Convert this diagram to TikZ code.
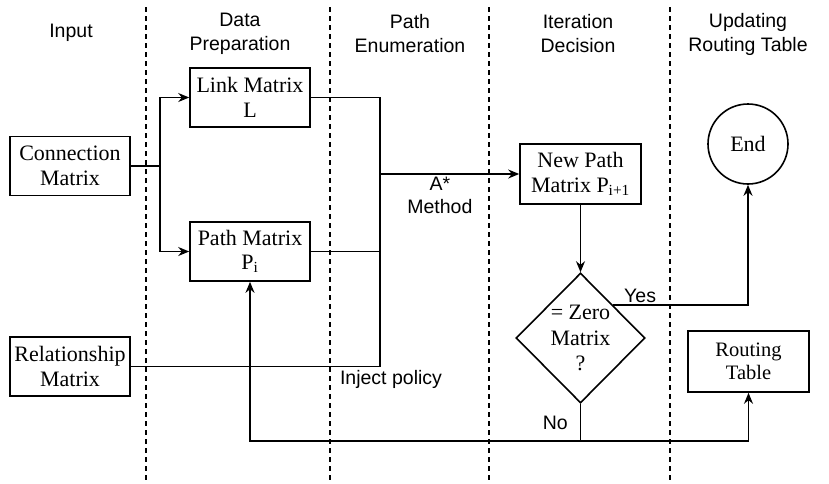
\documentclass[tikz,border=0pt]{standalone}
\usepackage{fontspec}
\setmainfont{Liberation Serif}
\setsansfont{Liberation Sans}
\usetikzlibrary{shapes.geometric, arrows.meta}

\tikzset{
  box/.style = {draw, line width = 1.6pt, align = center, inner sep = 0pt,
    minimum width = 120pt, minimum height = 59pt,
    font = \fontsize{22}{24.5}\selectfont},
  lane/.style = {line width = 1.5pt, dash pattern = on 5pt off 4pt},
  head/.style = {align = center, font = \sffamily\fontsize{19.5}{24}\selectfont},
  tag/.style = {align = center, inner sep = 2pt, font = \sffamily\fontsize{19.5}{23}\selectfont},
  line/.style = {line width = 1.6pt},
  >={Stealth[length = 11pt, width = 9pt]}
}

\begin{document}
\begin{tikzpicture}[x = 1pt, y = -1pt]
  \useasboundingbox (0, 0) rectangle (829, 483);

  % Lanes
  \foreach \x in {146, 330, 489, 670}
    \draw[lane] (\x, 7) -- (\x, 480);
  \node[head] (hinput) at (71, 33) {Input};
  \node[head] (hprep) at (240, 34) {Data\\Preparation};
  \node[head] (henum) at (410, 34) {Path\\Enumeration};
  \node[head] (hiter) at (578, 34) {Iteration\\Decision};
  \node[head] (hupdate) at (748, 34) {Updating\\Routing Table};

  % Nodes
  \node[box] (conn) at (70, 166) {Connection\\Matrix};
  \node[box] (link) at (250, 97.5) {Link Matrix\\L};
  \node[box] (pathm) at (250, 251.5) {Path Matrix\\P\textsubscript{i}};
  \node[box] (rel) at (70, 366.5) {Relationship\\Matrix};
  \node[box, minimum width = 121pt, minimum height = 60pt] (newp) at (580.5, 174)
    {New Path\\Matrix P\textsubscript{i+1}};
  \node[draw, circle, line width = 1.6pt, minimum size = 80pt, inner sep = 0pt,
    font = \fontsize{22}{24}\selectfont] (endc) at (748, 144) {End};
  \node[draw, diamond, line width = 1.6pt, minimum width = 129pt, minimum height = 130pt,
    inner sep = 0pt] (dec) at (580.5, 338) {};
  \node[align = center, font = \fontsize{22}{25.5}\selectfont] (dectext) at (dec) {= Zero\\Matrix\\?};
  \node[box, minimum width = 121pt, minimum height = 61pt,
    font = \fontsize{20.5}{23.5}\selectfont] (route) at (748.5, 361.5) {Routing\\Table};

  \coordinate (split) at (160, 166);
  \coordinate (merge) at (380, 174);
  \coordinate (back) at (580.5, 441);

  % Edges
  \draw[line] (conn.east) -- (split);
  \draw[line, ->] (split) |- (link.west);
  \draw[line, ->] (split) |- (pathm.west);
  \draw[line] (link.east) -| (merge);
  \draw[line] (pathm.east) -| (merge);
  \draw[line] (rel.east) -| node[tag, pos = 0.5, below, xshift = 11pt, yshift = -1pt] {Inject policy} (merge);
  \draw[line, ->] (merge) -- node[tag, pos = 0.43, below] {A*\\Method} (newp.west);
  \draw[line, ->] (newp.south) -- (dec.north);
  \draw[line, ->] (dec.north east) -| node[tag, pos = 0.1, above] {Yes} (endc.south);
  \draw[line] (dec.south) -- node[tag, pos = 0.5, left, xshift = -10pt] {No} (back);
  \draw[line, ->] (back) -| (pathm.south);
  \draw[line, ->] (back) -| (route.south);
\end{tikzpicture}
\end{document}
